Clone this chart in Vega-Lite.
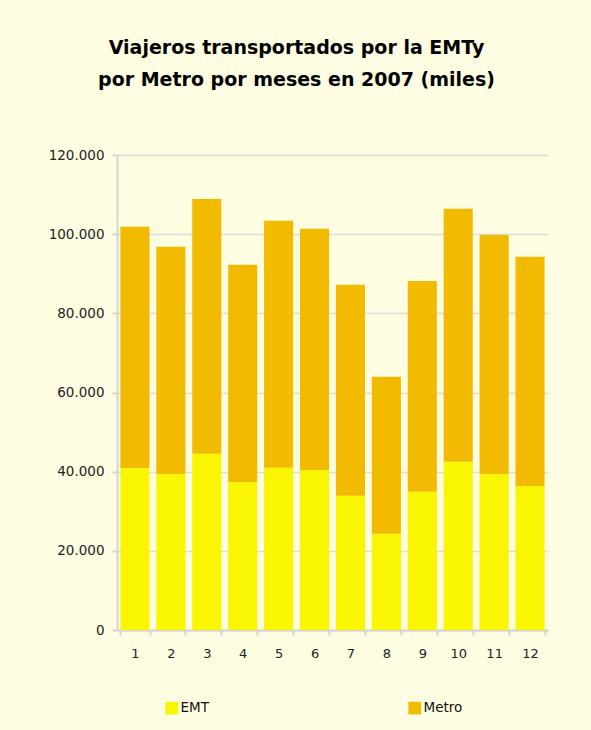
{
  "$schema": "https://vega.github.io/schema/vega-lite/v6.json",
  "width": 431,
  "height": 475,
  "autosize": {"type": "none"},
  "padding": {"left": 117, "top": 155, "right": 43, "bottom": 100},
  "background": "#FEFDE1",
  "config": {
    "locale": {"number": {"decimal": ",", "thousands": ".", "grouping": [3], "currency": ["", "€"]}},
    "view": {"stroke": null},
    "font": "DejaVu Sans"
  },
  "title": {
    "text": ["Viajeros transportados por la EMTy", "por Metro por meses en 2007 (miles)"],
    "font": "DejaVu Sans",
    "fontSize": 19,
    "fontWeight": "bold",
    "color": "#000000",
    "lineHeight": 32,
    "anchor": "middle",
    "dx": -36,
    "offset": 58
  },
  "data": {
    "values": [
      {"mes": 1, "serie": "EMT", "valor": 40900}, {"mes": 1, "serie": "Metro", "valor": 61000},
      {"mes": 2, "serie": "EMT", "valor": 39400}, {"mes": 2, "serie": "Metro", "valor": 57400},
      {"mes": 3, "serie": "EMT", "valor": 44500}, {"mes": 3, "serie": "Metro", "valor": 64400},
      {"mes": 4, "serie": "EMT", "valor": 37400}, {"mes": 4, "serie": "Metro", "valor": 54900},
      {"mes": 5, "serie": "EMT", "valor": 41000}, {"mes": 5, "serie": "Metro", "valor": 62400},
      {"mes": 6, "serie": "EMT", "valor": 40400}, {"mes": 6, "serie": "Metro", "valor": 61000},
      {"mes": 7, "serie": "EMT", "valor": 33900}, {"mes": 7, "serie": "Metro", "valor": 53300},
      {"mes": 8, "serie": "EMT", "valor": 24300}, {"mes": 8, "serie": "Metro", "valor": 39700},
      {"mes": 9, "serie": "EMT", "valor": 34900}, {"mes": 9, "serie": "Metro", "valor": 53300},
      {"mes": 10, "serie": "EMT", "valor": 42500}, {"mes": 10, "serie": "Metro", "valor": 63900},
      {"mes": 11, "serie": "EMT", "valor": 39400}, {"mes": 11, "serie": "Metro", "valor": 60400},
      {"mes": 12, "serie": "EMT", "valor": 36400}, {"mes": 12, "serie": "Metro", "valor": 57900}
    ]
  },
  "mark": {"type": "bar"},
  "encoding": {
    "x": {
      "field": "mes",
      "type": "ordinal",
      "scale": {"paddingInner": 0.19, "paddingOuter": 0.095},
      "axis": {
        "title": null,
        "labelAngle": 0,
        "labelFontSize": 13,
        "labelColor": "#222222",
        "labelPadding": 12,
        "tickBand": "extent",
        "tickSize": 5,
        "tickColor": "#D4D4D4",
        "tickWidth": 2,
        "domainColor": "#D4D4D4",
        "domainWidth": 2,
        "grid": false
      }
    },
    "y": {
      "field": "valor",
      "type": "quantitative",
      "aggregate": "sum",
      "stack": "zero",
      "scale": {"domain": [0, 120000], "nice": false},
      "axis": {
        "title": null,
        "values": [0, 20000, 40000, 60000, 80000, 100000, 120000],
        "format": ",d",
        "labelFontSize": 13.5,
        "labelColor": "#222222",
        "labelPadding": 8,
        "tickSize": 5,
        "tickColor": "#D4D4D4",
        "tickWidth": 2,
        "domainColor": "#D4D4D4",
        "domainWidth": 2,
        "grid": true,
        "gridColor": "#DCDCDC",
        "gridWidth": 1.5
      }
    },
    "order": {"field": "serie", "sort": "ascending"},
    "color": {
      "field": "serie",
      "type": "nominal",
      "scale": {"domain": ["EMT", "Metro"], "range": ["#FAF500", "#F2BA00"]},
      "legend": {
        "title": null,
        "orient": "none",
        "direction": "horizontal",
        "legendX": 48,
        "legendY": 546,
        "symbolType": "square",
        "symbolSize": 160,
        "symbolStrokeWidth": 0,
        "labelFontSize": 13.5,
        "labelColor": "#111111",
        "labelOffset": 2,
        "columnPadding": 199
      }
    }
  }
}
